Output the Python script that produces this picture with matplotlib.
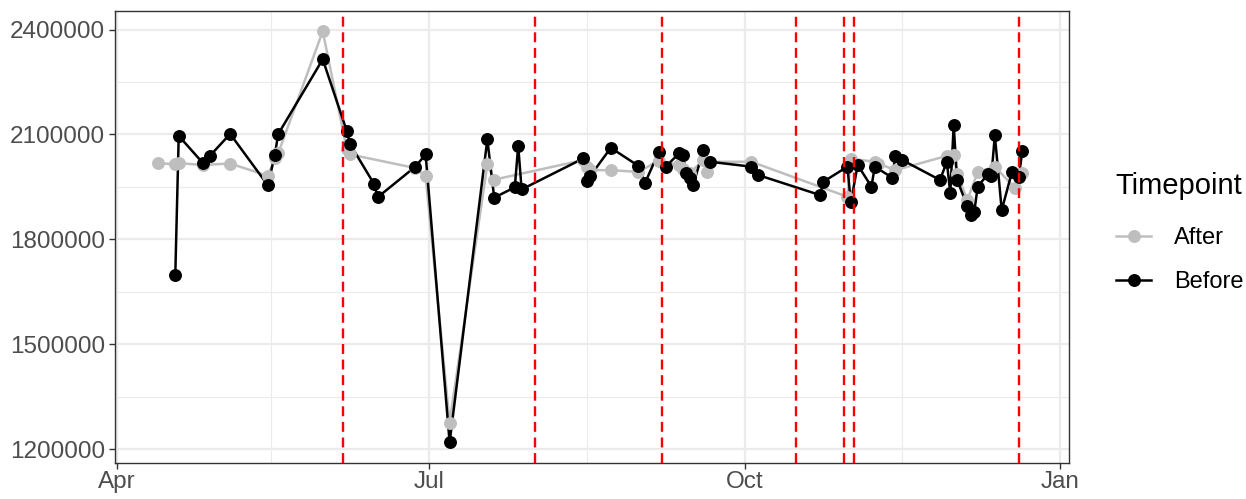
import pandas as pd
import matplotlib
matplotlib.use("Agg")
import matplotlib.pyplot as plt
import matplotlib.dates as mdates
from matplotlib.lines import Line2D

plt.rcParams['font.family'] = ['Liberation Sans', 'DejaVu Sans']

# Before series
before_dates = ["2021-04-18", "2021-04-19", "2021-04-26", "2021-04-28", "2021-05-04", "2021-05-15",
                "2021-05-17", "2021-05-18", "2021-05-31", "2021-06-07", "2021-06-08", "2021-06-15",
                "2021-06-16", "2021-06-27", "2021-06-30", "2021-07-07", "2021-07-18", "2021-07-20",
                "2021-07-26", "2021-07-27", "2021-07-28", "2021-08-15", "2021-08-16", "2021-08-17",
                "2021-08-23", "2021-08-31", "2021-09-02", "2021-09-06", "2021-09-08", "2021-09-12",
                "2021-09-13", "2021-09-14", "2021-09-15", "2021-09-16", "2021-09-19", "2021-09-21",
                "2021-10-03", "2021-10-05", "2021-10-23", "2021-10-24", "2021-10-31", "2021-11-01",
                "2021-11-03", "2021-11-07", "2021-11-08", "2021-11-13", "2021-11-14", "2021-11-16",
                "2021-11-27", "2021-11-29", "2021-11-30", "2021-12-01", "2021-12-02", "2021-12-05",
                "2021-12-06", "2021-12-07", "2021-12-08", "2021-12-11", "2021-12-12", "2021-12-13",
                "2021-12-15", "2021-12-18", "2021-12-20", "2021-12-21"]
before_vals = [1699000, 2096000, 2019000, 2038000, 2101700, 1954700,
               2040000, 2101000, 2315000, 2110000, 2072000, 1958000,
               1920500, 2008000, 2043000, 1219700, 2086000, 1919500,
               1949000, 2067000, 1943000, 2031600, 1967000, 1981000,
               2062000, 2010500, 1962000, 2050000, 2008000, 2047000,
               2042000, 1989000, 1975000, 1955000, 2055000, 2022000,
               2008000, 1984000, 1927000, 1965000, 2008000, 1906000,
               2013000, 1951000, 2008000, 1977000, 2038000, 2027000,
               1970000, 2022000, 1932000, 2126000, 1970000, 1895000,
               1870000, 1879000, 1951000, 1987000, 1982000, 2098000,
               1884000, 1993000, 1979000, 2053000]

# After series
after_dates = ["2021-04-13", "2021-04-18", "2021-04-19", "2021-04-26", "2021-05-04", "2021-05-15",
               "2021-05-17", "2021-05-18", "2021-05-31", "2021-06-07", "2021-06-08", "2021-06-27",
               "2021-06-30", "2021-07-07", "2021-07-18", "2021-07-20", "2021-08-15", "2021-08-16",
               "2021-08-17", "2021-08-23", "2021-08-31", "2021-09-06", "2021-09-12", "2021-09-13",
               "2021-09-14", "2021-09-15", "2021-09-19", "2021-09-20", "2021-09-21", "2021-10-03",
               "2021-10-31", "2021-11-01", "2021-11-08", "2021-11-09", "2021-11-14", "2021-11-29",
               "2021-12-01", "2021-12-02", "2021-12-05", "2021-12-08", "2021-12-13", "2021-12-19",
               "2021-12-21"]
after_vals = [2018000, 2015000, 2018000, 2013000, 2017000, 1982000,
              2032000, 2046000, 2395000, 2058000, 2043000, 2004000,
              1981000, 1276700, 2014500, 1971000, 2027000, 2008000,
              1998000, 1998000, 1993000, 2025000, 2013000, 2000000,
              1993000, 1990000, 2027000, 1993000, 2022000, 2022000,
              1922000, 2031000, 2022000, 2017000, 1998000, 2039000,
              2041000, 1987000, 1913000, 1993000, 2008000, 1946000,
              1989000]

event_dates = ["2021-06-06", "2021-08-01", "2021-09-07", "2021-10-16", "2021-10-30", "2021-11-02", "2021-12-20"]

bd = pd.to_datetime(before_dates)
ad = pd.to_datetime(after_dates)

fig = plt.figure(figsize=(12.46, 4.99), dpi=100)
ax = fig.add_axes([115/1246, 1 - 463/499, (1069 - 115)/1246, (463 - 11)/499])

grey = "#BEBEBE"
ax.plot(ad, after_vals, color=grey, lw=1.8, zorder=2)
ax.plot(bd, before_vals, color="black", lw=1.8, zorder=2.1)
ax.plot(ad, after_vals, "o", color=grey, ms=8.3, zorder=3)
ax.plot(bd, before_vals, "o", color="black", ms=8.3, zorder=3.1)

for d in pd.to_datetime(event_dates):
    ax.axvline(d, color="red", lw=1.7, linestyle=(0, (4.2, 2.4)), zorder=4)

ax.set_xlim(pd.Timestamp("2021-03-31 10:00"), pd.Timestamp("2022-01-03 15:00"))
ax.set_ylim(1161000, 2453000)

ax.xaxis.set_major_locator(mdates.MonthLocator(bymonth=[1, 4, 7, 10]))
ax.xaxis.set_major_formatter(mdates.DateFormatter("%b"))
ax.xaxis.set_minor_locator(matplotlib.ticker.FixedLocator(
    mdates.date2num(pd.to_datetime(["2021-05-16", "2021-08-16", "2021-11-16"]))))
ax.set_yticks([1200000, 1500000, 1800000, 2100000, 2400000])
ax.set_yticks([1350000, 1650000, 1950000, 2250000], minor=True)
ax.yaxis.set_major_formatter(matplotlib.ticker.FuncFormatter(lambda v, p: f"{int(v)}"))

ax.grid(which="major", color="#EBEBEB", lw=1.6, zorder=0)
ax.grid(which="minor", color="#EBEBEB", lw=0.8, zorder=0)
ax.set_axisbelow(True)
for s in ax.spines.values():
    s.set_color("#333333")
    s.set_linewidth(1.0)
ax.tick_params(which="major", length=4, width=1.0, color="#333333", labelsize=17.5,
               labelcolor="#4D4D4D", pad=3)
ax.tick_params(axis="x", pad=2)
ax.tick_params(which="minor", length=0)

handles = [Line2D([], [], color=grey, lw=1.8, marker="o", ms=8.3),
           Line2D([], [], color="black", lw=1.8, marker="o", ms=8.3)]
fig.text(1115/1246, 1 - 186/499, "Timepoint", fontsize=21, ha="left", va="center")
leg = fig.legend(handles, ["After", "Before"], loc="center left",
                 bbox_to_anchor=(1116/1246, 1 - 260/499), frameon=False, fontsize=17,
                 handlelength=1.5, labelspacing=0.95, handletextpad=0.95,
                 borderpad=0, borderaxespad=0)

fig.savefig("out.png", dpi=100)
